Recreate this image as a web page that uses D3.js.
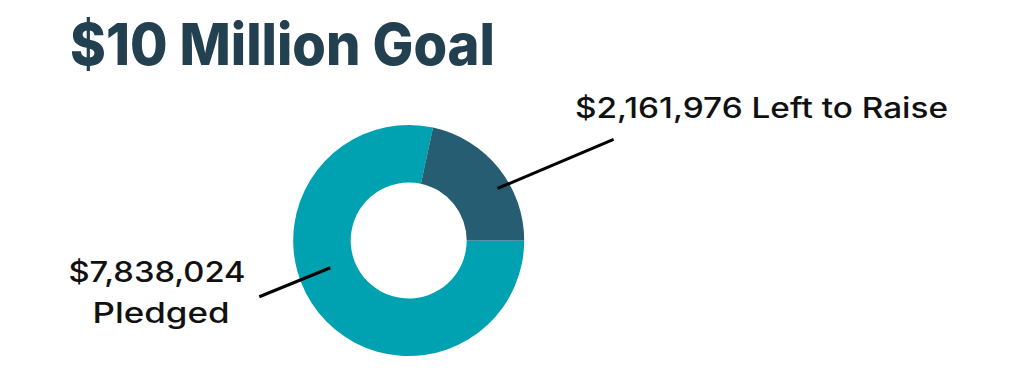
<!DOCTYPE html>
<html>
<head>
<meta charset="utf-8">
<script src="https://cdn.jsdelivr.net/npm/d3@7"></script>
<style>
  body { margin: 0; background: #fff; }
  svg { display: block; }
</style>
</head>
<body>
<svg width="1024" height="379"></svg>
<script>
// data
var title = "$10 Million Goal"
var categories = ["Pledged", "Left to Raise"]
var amounts = [7838024, 2161976]
var colors = ["#00A1B0", "#275D72"]

function main(){
	var svg = d3.select("svg")
	var cx = 408.7, cy = 240.5
	var outerR = 115.5, innerR = 58

	svg.append("text")
	.attr("x", 70).attr("y", 65)
	.attr("font-family", "Inter, 'Open Sans', sans-serif")
	.attr("font-weight", 800)
	.attr("font-size", 58)
	.attr("fill", "#22404F")
	.attr("textLength", 425).attr("lengthAdjust", "spacingAndGlyphs")
	.text(title)

	// pie starts at 3 o'clock, pledged first, clockwise
	var pie = d3.pie().sort(null)
	.startAngle(Math.PI / 2).endAngle(Math.PI / 2 + 2 * Math.PI)
	var arcs = pie(amounts)
	var arc = d3.arc().innerRadius(innerR).outerRadius(outerR)

	var g = svg.append("g").attr("transform", "translate(" + cx + "," + cy + ")")
	g.selectAll("path").data(arcs).enter().append("path")
	.attr("d", arc)
	.attr("fill", (d, i) => colors[i])

	// leader lines: [fraction along slice, radius, end dx, end dy]
	var leaders = [[0.57, 83, -71, 29], [0.61, 103, 116, -49]]
	arcs.forEach(function(d, i){
		var L = leaders[i]
		var a = d.startAngle + (d.endAngle - d.startAngle) * L[0]
		var p = d3.pointRadial(a, L[1])
		g.append("line")
		.attr("x1", p[0]).attr("y1", p[1])
		.attr("x2", p[0] + L[2]).attr("y2", p[1] + L[3])
		.attr("stroke", "#000").attr("stroke-width", 3)
	})

	var fmt = d3.format("$,")
	var labelFont = "Inter, 'Open Sans', sans-serif"

	// pledged label, two lines
	var t = svg.append("text")
	.attr("text-anchor", "middle")
	.attr("font-family", labelFont).attr("font-weight", 500)
	.attr("font-size", 28).attr("fill", "#111")
	t.append("tspan").attr("x", 157).attr("y", 282)
	.attr("textLength", 177).attr("lengthAdjust", "spacingAndGlyphs")
	.text(fmt(amounts[0]))
	t.append("tspan").attr("x", 161).attr("y", 323)
	.attr("textLength", 137).attr("lengthAdjust", "spacingAndGlyphs")
	.text(categories[0])

	svg.append("text")
	.attr("x", 575).attr("y", 118)
	.attr("font-family", labelFont).attr("font-weight", 500)
	.attr("font-size", 28).attr("fill", "#111")
	.attr("textLength", 373).attr("lengthAdjust", "spacingAndGlyphs")
	.text(fmt(amounts[1]) + " " + categories[1])
}

window.onload = function() {
  main()
};
</script>
</body>
</html>
